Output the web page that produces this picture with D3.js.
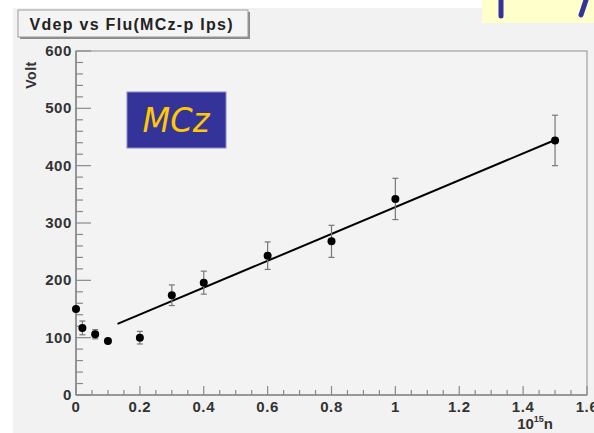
<!DOCTYPE html>
<html>
<head>
<meta charset="utf-8">
<script src="https://cdn.jsdelivr.net/npm/d3@7"></script>
<style>
  html, body { margin: 0; padding: 0; background: #ffffff; }
  svg { display: block; }
  text { font-family: "Liberation Sans", Arial, Helvetica, sans-serif; }
</style>
</head>
<body>
<svg id="chart" width="594" height="433"></svg>
<script>
// Depletion voltage of MCz p-type pads versus fluence (10^15 n/cm^2)
const fluence = [0, 0.02, 0.06, 0.1, 0.2, 0.3, 0.4, 0.6, 0.8, 1.0, 1.5];
const vdep    = [150, 117, 106, 94, 100, 174, 196, 243, 268, 342, 444];
const vdepErr = [0, 12, 8, 5, 11, 18, 20, 24, 28, 36, 44];

// Linear fit  V = p0 + p1 * fluence, drawn over its fit range
const fitRange = [0.13, 1.5];
const fitParams = [93.6, 234.1];

const xTicks = [0, 0.2, 0.4, 0.6, 0.8, 1, 1.2, 1.4, 1.6];
const yTicks = [0, 100, 200, 300, 400, 500, 600];

const svg = d3.select("#chart");
const W = 594, H = 433;
const frame = { left: 76, right: 587, top: 51, bottom: 395 };

// canvas background
svg.append("rect").attr("x", 13).attr("y", 8).attr("width", W - 13).attr("height", H - 8)
  .attr("fill", "#f2f2f2");

// slide decoration in the upper right corner
const deco = svg.append("g");
deco.append("rect").attr("x", 482).attr("y", 0).attr("width", 112).attr("height", 23).attr("fill", "#ffffcc");
deco.append("line").attr("x1", 501).attr("y1", 0).attr("x2", 501).attr("y2", 16)
  .attr("stroke", "#33339a").attr("stroke-width", 5).attr("stroke-linecap", "round");
deco.append("line").attr("x1", 586).attr("y1", 0).attr("x2", 581).attr("y2", 15)
  .attr("stroke", "#33339a").attr("stroke-width", 5).attr("stroke-linecap", "round");

const x = d3.scaleLinear().domain([0, 1.6]).range([frame.left, frame.right]);
const y = d3.scaleLinear().domain([0, 600]).range([frame.bottom, frame.top]);

// frame
svg.append("rect")
  .attr("x", frame.left).attr("y", frame.top)
  .attr("width", frame.right - frame.left).attr("height", frame.bottom - frame.top)
  .attr("fill", "#f3f3f3").attr("stroke", "#a0a0a0").attr("stroke-width", 1.2);

// y axis: major every 100, minor every 20
const yMinor = d3.range(0, 601, 20);
svg.append("g").selectAll("line").data(yMinor).join("line")
  .attr("x1", frame.left).attr("x2", d => frame.left + (d % 100 === 0 ? 15 : 7))
  .attr("y1", d => y(d)).attr("y2", d => y(d))
  .attr("stroke", "#8a8a8a").attr("stroke-width", 1.2);
svg.append("g").selectAll("text").data(yTicks).join("text")
  .attr("x", frame.left - 4).attr("y", d => y(d) + 5)
  .attr("text-anchor", "end").attr("font-size", 15).attr("font-weight", "bold")
  .attr("fill", "#333").attr("letter-spacing", 0.6)
  .text(d => d);

// x axis: major every 0.2, minor every 0.05
const xMinor = d3.range(0, 33).map(i => i * 0.05);
svg.append("g").selectAll("line").data(xMinor).join("line")
  .attr("x1", d => x(d)).attr("x2", d => x(d))
  .attr("y1", frame.bottom).attr("y2", (d, i) => frame.bottom - (i % 4 === 0 ? 9 : 5))
  .attr("stroke", "#8a8a8a").attr("stroke-width", 1.2);
svg.append("g").selectAll("text").data(xTicks).join("text")
  .attr("x", d => x(d)).attr("y", frame.bottom + 17)
  .attr("text-anchor", "middle").attr("font-size", 15).attr("font-weight", "bold")
  .attr("fill", "#333").attr("letter-spacing", 0.6)
  .text(d => d);

// axis lines
svg.append("line").attr("x1", frame.left).attr("x2", frame.left)
  .attr("y1", frame.top).attr("y2", frame.bottom).attr("stroke", "#8a8a8a").attr("stroke-width", 1.6);
svg.append("line").attr("x1", frame.left).attr("x2", frame.right)
  .attr("y1", frame.bottom).attr("y2", frame.bottom).attr("stroke", "#8a8a8a").attr("stroke-width", 1.6);

// axis titles
svg.append("text")
  .attr("transform", `translate(36,75) rotate(-90)`)
  .attr("text-anchor", "middle").attr("font-size", 14).attr("font-weight", "bold").attr("fill", "#333")
  .attr("letter-spacing", 0.5)
  .text("Volt");
const xt = svg.append("text").attr("x", 553).attr("y", 429).attr("text-anchor", "end")
  .attr("font-size", 15).attr("font-weight", "bold").attr("fill", "#333");
xt.append("tspan").text("10");
xt.append("tspan").attr("font-size", 9).attr("dy", -7).text("15");
xt.append("tspan").attr("dy", 7).text("n");

// fit line
const line = d3.line().x(d => x(d)).y(d => y(fitParams[0] + fitParams[1] * d));
svg.append("path").datum(fitRange).attr("d", line)
  .attr("fill", "none").attr("stroke", "#000").attr("stroke-width", 2);

// error bars
const pts = fluence.map((f, i) => ({ f, v: vdep[i], e: vdepErr[i] }));
const eb = svg.append("g").attr("stroke", "#777").attr("stroke-width", 1.2);
eb.selectAll("line.v").data(pts.filter(d => d.e > 0)).join("line").attr("class", "v")
  .attr("x1", d => x(d.f)).attr("x2", d => x(d.f))
  .attr("y1", d => y(d.v + d.e)).attr("y2", d => y(d.v - d.e));
eb.selectAll("line.t").data(pts.filter(d => d.e > 6)).join("line").attr("class", "t")
  .attr("x1", d => x(d.f) - 3).attr("x2", d => x(d.f) + 3)
  .attr("y1", d => y(d.v + d.e)).attr("y2", d => y(d.v + d.e));
eb.selectAll("line.b").data(pts.filter(d => d.e > 6)).join("line").attr("class", "b")
  .attr("x1", d => x(d.f) - 3).attr("x2", d => x(d.f) + 3)
  .attr("y1", d => y(d.v - d.e)).attr("y2", d => y(d.v - d.e));

// data points
svg.append("g").selectAll("circle").data(pts).join("circle")
  .attr("cx", d => x(d.f)).attr("cy", d => y(d.v)).attr("r", 4)
  .attr("fill", "#000");

// title box with shadow
svg.append("rect").attr("x", 20).attr("y", 12).attr("width", 230).attr("height", 27).attr("fill", "#8a8a8a");
svg.append("rect").attr("x", 18).attr("y", 10).attr("width", 230).attr("height", 27)
  .attr("fill", "#f4f4f4").attr("stroke", "#9a9a9a").attr("stroke-width", 1);
svg.append("text").attr("x", 131).attr("y", 30).attr("text-anchor", "middle")
  .attr("font-size", 16).attr("font-weight", "bold").attr("fill", "#222")
  .attr("textLength", 203).attr("lengthAdjust", "spacing")
  .text("Vdep vs Flu(MCz-p Ips)");

// MCz label
svg.append("rect").attr("x", 127).attr("y", 92).attr("width", 99).attr("height", 56)
  .attr("fill", "#333399").attr("stroke", "#8a8acc").attr("stroke-width", 1);
svg.append("text").attr("x", 176).attr("y", 132).attr("text-anchor", "middle")
  .attr("font-size", 34).attr("font-style", "italic").attr("fill", "#ffc800")
  .attr("textLength", 67).attr("lengthAdjust", "spacingAndGlyphs")
  .style("font-family", "'DejaVu Sans', sans-serif")
  .text("MCz");
</script>
</body>
</html>
